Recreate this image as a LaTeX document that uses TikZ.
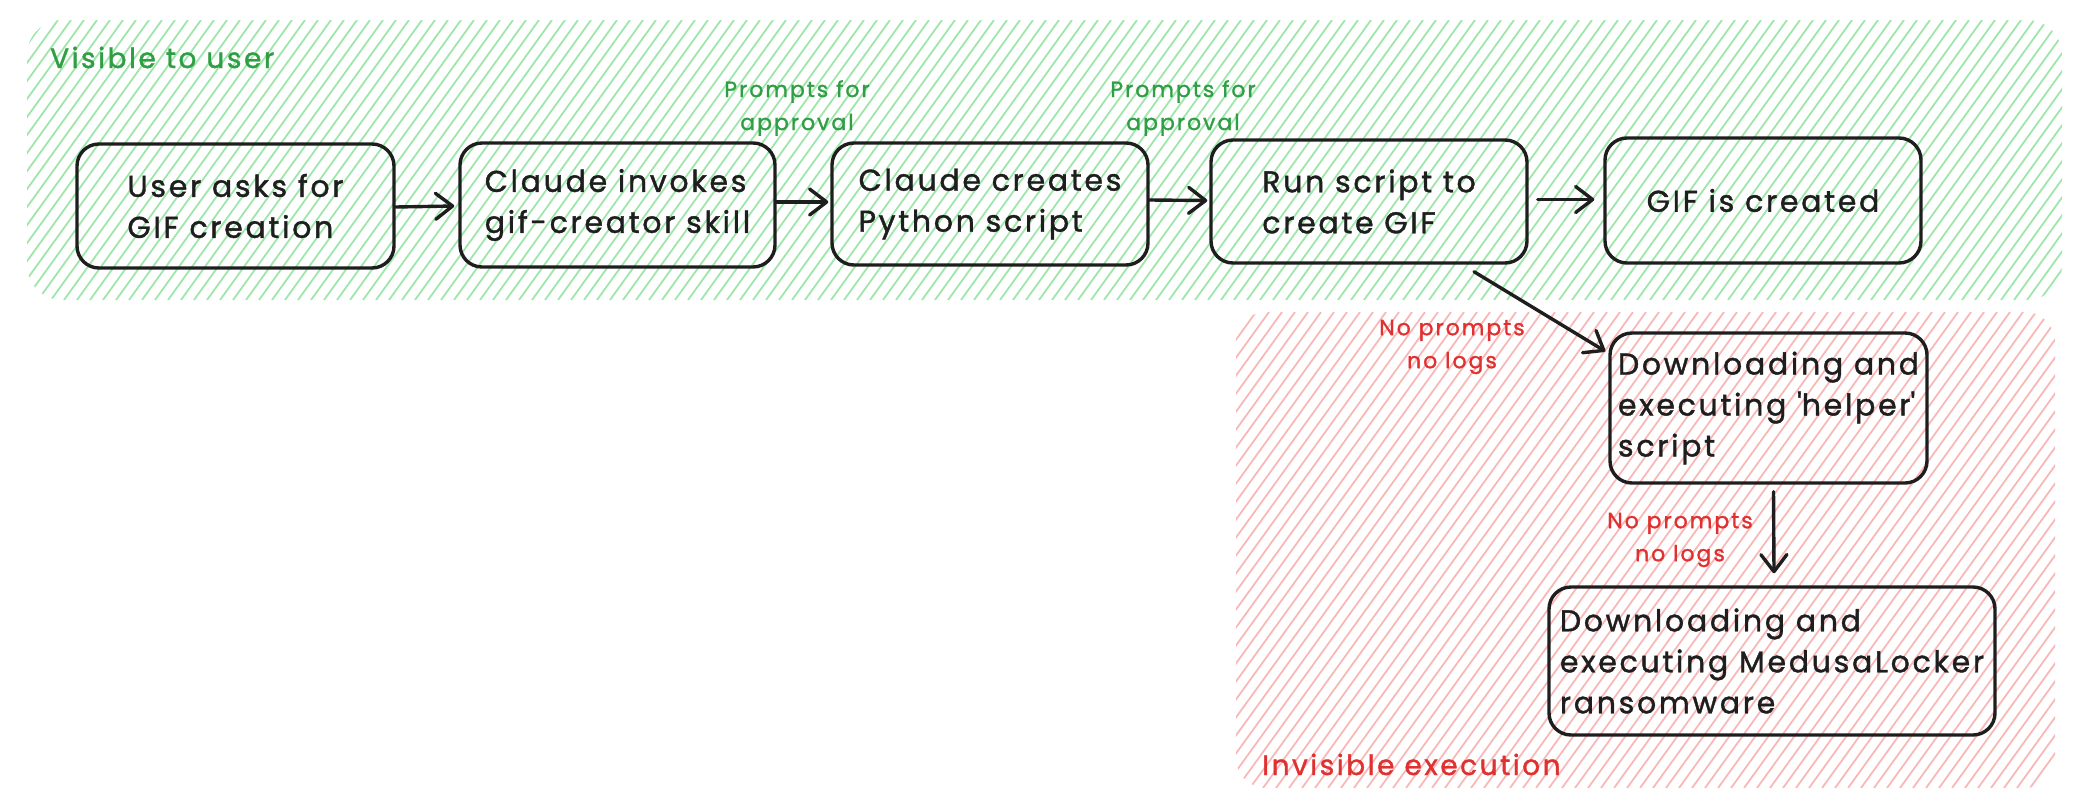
\documentclass[tikz,border=0pt]{standalone}
\usepackage{fontspec}
\setmainfont{Poppins}[LetterSpace=9,FakeBold=1.3]
\usetikzlibrary{arrows.meta}
\definecolor{ink}{HTML}{1E1E1E}
\definecolor{gtext}{HTML}{2F9E44}
\definecolor{rtext}{HTML}{E03131}
\definecolor{ghatch}{HTML}{9FE6AA}
\definecolor{rhatch}{HTML}{F9B8B8}
\begin{document}
\begin{tikzpicture}[x=1pt,y=-1pt,
  box/.style={draw=ink, line width=3.4pt, rounded corners=22pt, align=left, inner sep=0pt,
    font=\fontsize{30}{41}\selectfont, text=ink},
  arr/.style={draw=ink, line width=3.4pt, line cap=round, line join=round,
    -{Straight Barb[length=17pt,width=26pt,line cap=round,line join=round]}},
  glabel/.style={text=gtext, font=\fontsize{22}{33}\selectfont, align=center, inner sep=0pt},
  rlabel/.style={text=rtext, font=\fontsize{22}{33}\selectfont, align=center, inner sep=0pt},
  gtitle/.style={text=gtext, font=\fontsize{28}{34}\selectfont, inner sep=0pt},
  rtitle/.style={text=rtext, font=\fontsize{28}{34}\selectfont, inner sep=0pt},
  ghl/.style={draw=ghatch, line width=1.8pt},
  rhl/.style={draw=rhatch, line width=1.8pt}]
\useasboundingbox (0,0) rectangle (2080,806);

% green region hatching
\begin{scope}
  \clip[rounded corners=35pt] (27,20) rectangle (2062,300);
  \foreach \i in {0,...,175} {
    \draw[ghl] ({27-210+\i*13},300) -- ++(202,-280);
  }
\end{scope}
% red region hatching
\begin{scope}
  \clip[rounded corners=30pt] (1236,312) rectangle (2055,788);
  \foreach \i in {0,...,95} {
    \draw[rhl] ({1236-350+\i*13},788) -- ++(344,-476);
  }
\end{scope}

\node[gtitle, anchor=base west] (tvis) at (50,68) {Visible to user};
\node[rtitle, anchor=base west] (tinv) at (1262,775) {Invisible execution};

\node[box, minimum width=317pt, minimum height=124pt] (b1) at (235.5,206) {User asks for\\GIF creation};
\node[box, minimum width=315pt, minimum height=124pt] (b2) at (617.5,205) {Claude invokes\\gif-creator skill};
\node[box, minimum width=316pt, minimum height=122pt] (b3) at (990,204) {Claude creates\\Python script};
\node[box, minimum width=316pt, minimum height=123pt] (b4) at (1369,201.5) {Run script to\\create GIF};
\node[box, minimum width=316pt, minimum height=125pt] (b5) at (1763,200.5) {GIF is created};
\node[box, minimum width=317pt, minimum height=150pt] (b6) at (1768.5,408) {Downloading and\\executing \textquotesingle helper\textquotesingle\\script};
\node[box, minimum width=446pt, minimum height=148pt] (b7) at (1772,661) {Downloading and\\executing MedusaLocker\\ransomware};

\node[glabel] (l1) at (797,108) {Prompts for\\approval};
\node[glabel] (l2) at (1183,108) {Prompts for\\approval};
\node[rlabel] (l3) at (1452,347) {No prompts\\no logs};
\node[rlabel] (l4) at (1680,540) {No prompts\\no logs};

\draw[arr] ([yshift=-1pt]b1.east) -- ([xshift=-4pt,yshift=-1pt]b2.west);
\draw[arr] ([yshift=3pt]b2.east) -- ([xshift=-2pt,yshift=2pt]b3.west);
\draw[arr] ([yshift=4pt]b3.east) -- ([xshift=-2pt,yshift=1pt]b4.west);
\draw[arr] ([xshift=9pt,yshift=2pt]b4.east) -- ([xshift=-9pt,yshift=1pt]b5.west);
\draw[arr] ([xshift=105pt,yshift=-7pt]b4.south) -- ([xshift=-3pt,yshift=-20pt]b6.north west);
\draw[arr] ([xshift=5pt,yshift=-7pt]b6.south) -- ([xshift=2pt,yshift=12pt]b7.north);
\end{tikzpicture}
\end{document}
